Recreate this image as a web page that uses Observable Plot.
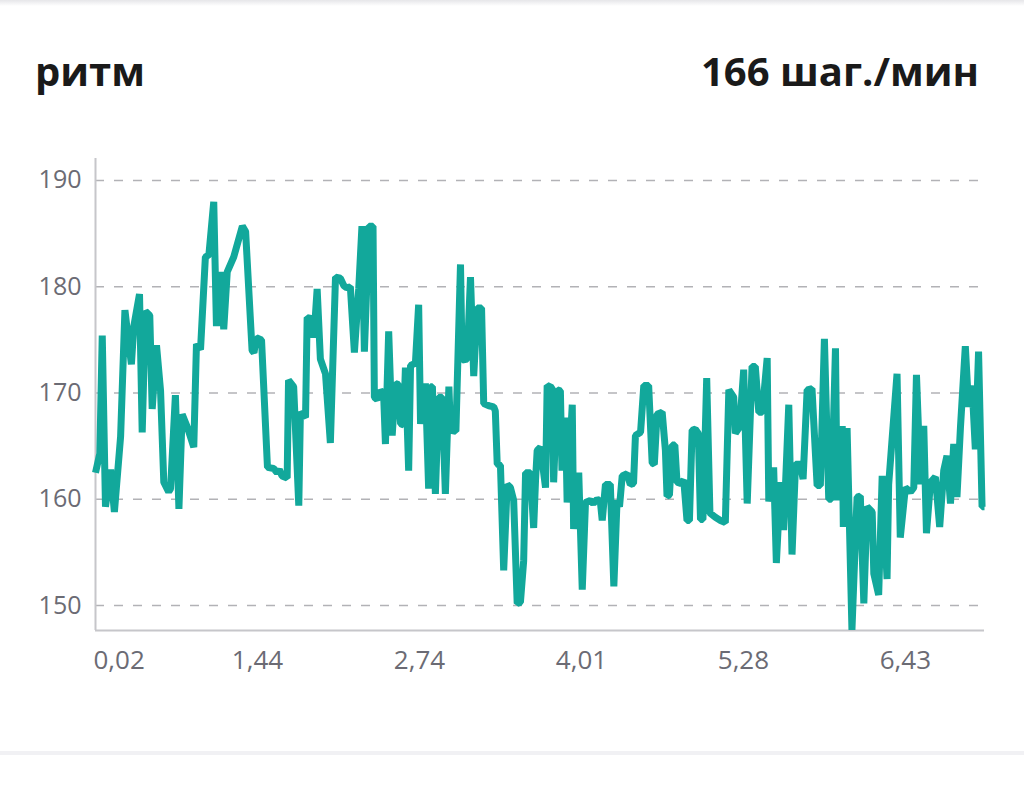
<!DOCTYPE html>
<html>
<head>
<meta charset="utf-8">
<script src="https://cdn.jsdelivr.net/npm/d3@7"></script>
<script src="https://cdn.jsdelivr.net/npm/@observablehq/plot@0.6"></script>
<style>
  html, body { margin: 0; padding: 0; background: #fff; }
  body { width: 1024px; height: 788px; position: relative; overflow: hidden; font-family: "Open Sans", sans-serif; }
  .topbar { position: absolute; left: 0; top: 0; width: 1024px; height: 6px; background: linear-gradient(#e6e6e9, #fff); }
  .botbar { position: absolute; left: 0; top: 751px; width: 1024px; height: 4px; background: #f1f1f4; }
  .title { position: absolute; left: 35px; top: 43px; font-size: 40px; font-weight: 700; color: #1a1a1a; }
  .value { position: absolute; right: 45px; top: 43px; font-size: 40px; font-weight: 700; color: #1a1a1a; }
  #chart { position: absolute; left: 0; top: 140px; }
</style>
</head>
<body>
<div class="topbar"></div>
<div class="title">ритм</div>
<div class="value">166 шаг./мин</div>
<div id="chart"></div>
<div class="botbar"></div>
<script>
// elapsed time (minutes) and cadence (steps/min)
const times = [0.00,0.16,0.25,0.37,0.56,0.70,0.93,1.09,1.19,1.33,1.42,1.63,1.73,1.85,2.01,2.10,2.26,2.41,2.53,2.71,2.78,2.96,3.09,3.21,3.40,3.64,3.74,3.89,4.07,4.20,4.38,4.48,4.63,4.75,4.88,5.12,5.44,5.56,5.80,5.87,5.96,6.15,6.37,6.60,6.73,6.81,6.91,7.10,7.15,7.34,7.53,7.59,7.78,7.84,8.03,8.09,8.21,8.33,8.52,8.70,8.89,9.07,9.20,9.30,9.44,9.59,9.75,9.87,9.96,10.13,10.28,10.33,10.43,10.56,10.67,10.74,10.86,10.99,11.11,11.22,11.30,11.41,11.48,11.60,11.67,11.85,11.97,12.04,12.22,12.34,12.41,12.48,12.59,12.71,12.84,12.96,13.09,13.15,13.35,13.52,13.58,13.77,13.89,14.01,14.14,14.30,14.38,14.57,14.75,14.81,14.88,15.00,15.12,15.25,15.37,15.49,15.62,15.74,15.86,15.93,16.11,16.23,16.30,16.36,16.48,16.67,16.73,16.91,16.97,17.10,17.22,17.28,17.41,17.47,17.66,17.71,17.90,18.03,18.15,18.33,18.44,18.58,18.70,18.77,18.89,19.07,19.20,19.32,19.41,19.51,19.69,19.81,19.93,20.00,20.19,20.31,20.49,20.62,20.70,20.80,20.99,21.11,21.17,21.26,21.36,21.46,21.54,21.67,21.79,21.91,22.00,22.10,22.22,22.33,22.41,22.50,22.64,22.76,22.96,23.15,23.33,23.46,23.64,23.70,23.86,24.01,24.14,24.32,24.44,24.57,24.70,24.88,24.94,25.12,25.22,25.37,25.49,25.68,25.80,25.93,26.11,26.21,26.36,26.54,26.73,26.85,27.00,27.16,27.26,27.41,27.47,27.66,27.70,27.84,28.02,28.15,28.21,28.33,28.46,28.58,28.77,28.83,29.01,29.14,29.32,29.38,29.69,29.81,30.00,30.19,30.31,30.41,30.56,30.68,30.78,30.93,31.11,31.27,31.42,31.54,31.67,31.79,31.91,32.04,32.22,32.34,32.47,32.59,32.71,32.84,32.93];
const cadence = [162.5,164.3,175.4,159.3,162.8,158.8,165.9,177.8,175.6,172.7,176.3,179.3,166.3,177.7,177.3,168.5,174.5,170.2,161.6,160.7,161.0,169.8,159.1,168.0,166.8,164.9,174.6,174.1,182.8,183.0,188.0,176.3,181.4,176.0,181.4,182.8,185.7,185.2,174.0,173.8,175.2,175.0,163.0,162.9,162.5,162.8,162.2,162.0,171.2,170.6,159.4,168.2,167.7,177.1,177.0,175.2,179.8,173.2,171.8,165.3,180.9,180.8,180.1,179.9,180.0,173.8,179.8,185.7,173.9,185.7,185.7,169.6,169.4,170.2,170.0,165.2,175.8,166.0,170.9,170.8,167.1,167.0,172.4,162.7,172.6,172.8,178.3,167.1,170.9,161.0,170.6,170.6,160.5,169.6,169.6,160.5,170.6,166.5,166.4,182.1,173.1,173.2,180.9,171.6,178.0,178.0,169.0,168.8,168.7,168.3,163.3,163.2,153.3,161.4,161.1,159.9,150.2,150.3,154.2,162.5,162.5,157.3,161.8,164.6,164.9,161.1,170.7,170.5,161.6,170.3,170.2,162.7,167.7,159.7,168.9,157.2,162.5,151.5,159.7,159.9,159.6,160.0,159.8,158.0,161.4,161.4,151.8,159.9,159.3,162.2,162.4,161.4,161.5,166.0,166.3,170.7,170.7,163.4,163.3,168.0,168.2,164.6,160.3,160.4,165.1,165.1,161.6,161.5,161.8,158.0,158.0,166.5,166.6,166.2,158.1,158.1,171.4,158.7,158.3,158.0,157.8,170.3,169.6,166.2,166.8,172.2,159.6,172.5,172.5,168.2,168.2,173.3,159.8,163.0,154.0,161.6,157.1,168.9,154.8,163.3,163.3,161.9,170.3,170.4,161.3,161.3,175.1,160.0,160.0,174.2,159.9,166.9,157.4,166.7,147.7,156.4,160.2,160.3,150.2,159.3,158.8,153.0,151.0,162.2,152.5,161.4,171.8,156.4,161.1,160.7,161.1,171.7,161.4,166.9,156.8,161.6,162.1,157.4,162.7,164.1,159.6,165.2,160.2,166.8,174.4,168.7,170.7,164.7,173.9,159.3,159.3];

// x tick positions (minutes) and their distance labels (km)
const tickTimes = [0, 6, 12, 18, 24, 30];
const tickLabels = ["0,02", "1,44", "2,74", "4,01", "5,28", "6,43"];
const yTicks = [150, 160, 170, 180, 190];

const data = times.map((t, i) => ({t, v: cadence[i]}));
const labelOf = new Map(tickTimes.map((t, i) => [t, tickLabels[i]]));

const chart = Plot.plot({
  width: 1024,
  height: 560,
  marginLeft: 95,
  marginRight: 40,
  marginTop: 18,
  marginBottom: 70,
  style: {fontFamily: "Open Sans, sans-serif", background: "transparent"},
  x: {domain: [0, 32.93]},
  y: {domain: [147.65, 192.07]},
  marks: [
    Plot.ruleY(yTicks, {stroke: "#b2b2b6", strokeWidth: 1.5, strokeDasharray: "9,10"}),
    Plot.ruleX([0], {stroke: "#c6c6ca", strokeWidth: 2}),
    Plot.ruleY([147.65], {stroke: "#c6c6ca", strokeWidth: 2}),
    Plot.axisY({ticks: yTicks, tickSize: 0, tickPadding: 14, fontSize: 25, color: "#6b6b74", label: null}),
    Plot.axisX({ticks: tickTimes.slice(0, 1), tickSize: 0, tickPadding: 20, fontSize: 26, color: "#6b6b74", textAnchor: "start", dx: -2, tickFormat: d => labelOf.get(d), label: null}),
    Plot.axisX({ticks: tickTimes.slice(1), tickSize: 0, tickPadding: 20, fontSize: 26, color: "#6b6b74", tickFormat: d => labelOf.get(d), label: null}),
    Plot.line(data, {x: "t", y: "v", stroke: "#12a89b", strokeWidth: 7, strokeLinejoin: "bevel", strokeLinecap: "butt"})
  ]
});
document.getElementById("chart").appendChild(chart);
</script>
</body>
</html>
